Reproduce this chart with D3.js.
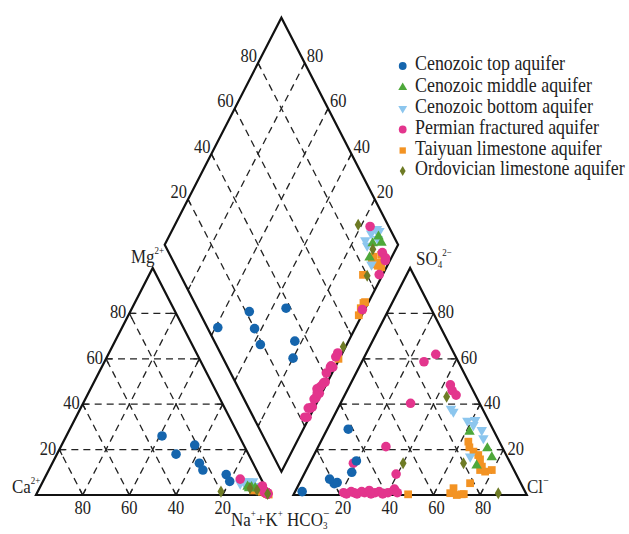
<!DOCTYPE html>
<html><head><meta charset="utf-8">
<script src="https://cdn.jsdelivr.net/npm/d3@7/dist/d3.min.js"></script>
<style>body{margin:0;background:#fff}</style>
</head><body>
<svg id="c" width="629" height="534"></svg>
<script>
// ---------- data ----------
const tickValues = [20, 40, 60, 80];
const seriesNames = ["Cenozoic top aquifer","Cenozoic middle aquifer","Cenozoic bottom aquifer",
  "Permian fractured aquifer","Taiyuan limestone aquifer","Ordovician limestone aquifer"];
// each sample: [Na+K %, Mg %, Cl %, SO4 %]  (Ca = 100-Na-Mg, HCO3 = 100-Cl-SO4)
const cenozoicTop = [[41,26,3,1.5],[51,18,16,5.5],[57,22,15,5],[63,14,12,7],[66,11,9,29],[77,9,19.5,15],[80,6,20,10]];
const cenozoicMiddle = [[88.8,3.7,61.5,27.9],[89.8,3,72.8,20.6],[92.4,3,76.7,16.6],[90.6,3.5,72,13]];
const cenozoicBottom = [[85,5,50.2,36.7],[87,5,48.5,38],[86,6,58.2,32.7],[87.5,5.5,61.4,33],[90,6,61.7,30.8],
  [89,5,66.4,28.6],[88,6,68.9,25],[93,4,67.3,16.9]];
const permian = [[84,7,30,62],[95,4,43,48.5],[98.5,1,26.6,58.7],[99,0.5,30,40.4],[98,1,29,21.3],[98,1,45,46],
  [97.5,1,47.7,44],[98,1,18.7,14],[98,1,39.4,9.2],[98,1,42,2.6],
  [98,1,21,1],[99,0.5,22.5,0.5],[97.5,1.5,24,1.5],[98.5,1,25.5,1],[99,0.5,27,0.5],[98,1,28.5,1.5],
  [98.5,1,30,1],[97,1.5,31.5,2],[99,0.5,33,0.5],[98,1,34.5,1],[98.5,1,36,1.5],[99,0.5,38,0.5],
  [97.5,1.5,40,1],[98,1,42,2],[99,0.5,44,1]];
const taiyuan = [[92,2,63.2,23.5],[94.6,2,64.9,21],[96,1.5,67.6,19.1],[96,2,70.4,17.6],[97.8,1,72.1,15.7],
  [95,2,74.5,12.5],[92,3,74.5,11],[96,1.5,77,10.3],[95,2.5,79.5,11],[91.6,3,73.1,5.2],[98.8,0.5,67.1,3],
  [98.7,0.5,66.8,0.8],[98,1,70,0],[98,1,72,0.3],[98.5,0.7,72.8,0.4],[99.6,0.2,49,0.3]];
const ordovician = [[78.5,1.5,44,43.3],[93.6,2.2,65.9,14],[99,0.5,40,14],[90.2,3,87.4,0.75]];

// ---------- styles ----------
const styles = [
  {data: cenozoicTop, color: "#1565ad", shape: "circle"},
  {data: cenozoicMiddle, color: "#4ea83a", shape: "tri"},
  {data: cenozoicBottom, color: "#8cc6ee", shape: "tridown"},
  {data: permian, color: "#e3358d", shape: "circle"},
  {data: taiyuan, color: "#f39323", shape: "square"},
  {data: ordovician, color: "#6e7b25", shape: "diamond"}
];
const drawOrder = [4, 2, 1, 3, 0, 5];

// ---------- geometry ----------
const x0 = 36, yb = 495, W = 233.4, H = 227, gap = 24;
const x1 = x0 + W + gap;
const sy = d3.scaleLinear().domain([0,100]).range([yb, yb - H]);
const sxC = d3.scaleLinear().domain([0,100]).range([x0, x0 + W]);
const sxA = d3.scaleLinear().domain([0,100]).range([x1, x1 + W]);
const xMid = (x0 + W + x1) / 2;
const yLR = yb - H * (x1 - x0) / W;
const sxD = d3.scaleLinear().domain([-100,100]).range([xMid - W/2, xMid + W/2]);
const syD = d3.scaleLinear().domain([-100,100]).range([yLR + H, yLR - H]);

const cat = (na, mg) => [sxC(na + mg/2), sy(mg)];
const ani = (cl, so4) => [sxA(cl + so4/2), sy(so4)];
const dia = (na, hco3) => [sxD(na - hco3), syD(100 - na - hco3)];

const svg = d3.select("#c");
const FONT = "'Liberation Serif','Times New Roman',serif";
const VS = 1.12;

function txt(x, y, parts, size, anchor) {
  const g = svg.append("g").attr("transform", `translate(${x},${y}) scale(1,${VS})`);
  const t = g.append("text").attr("font-family", FONT).attr("font-size", size)
    .attr("text-anchor", anchor || "start").attr("fill", "#222");
  parts.forEach(p => {
    if (typeof p === "string") t.append("tspan").text(p);
    else t.append("tspan").attr("font-size", p.s || size).attr("dy", p.dy || 0).attr("dx", p.dx || 0).text(p.t);
  });
  return t;
}

// ---------- grid ----------
const gridG = svg.append("g");
function gridLine(p, q) {
  gridG.append("line").attr("x1", p[0]).attr("y1", p[1]).attr("x2", q[0]).attr("y2", q[1])
    .attr("stroke", "#222").attr("stroke-width", 1.3).attr("stroke-dasharray", "7,5");
  const dx = q[0]-p[0], dy = q[1]-p[1], L = Math.hypot(dx, dy), t = 6 / L;
  [[p, 1], [q, -1]].forEach(([a, s]) => {
    gridG.append("line").attr("x1", a[0]).attr("y1", a[1])
      .attr("x2", a[0] + s*dx*t).attr("y2", a[1] + s*dy*t)
      .attr("stroke", "#222").attr("stroke-width", 1.3);
  });
}
tickValues.forEach(k => {
  gridLine(cat(0,k), cat(100-k,k));
  gridLine(cat(k,0), cat(k,100-k));
  gridLine(cat(100-k,0), cat(0,100-k));
  gridLine(ani(0,k), ani(100-k,k));
  gridLine(ani(k,0), ani(k,100-k));
  gridLine(ani(100-k,0), ani(0,100-k));
  gridLine(dia(0,100-k), dia(100,100-k));
  gridLine(dia(100-k,0), dia(100-k,100));
});

// ---------- outlines ----------
const line = d3.line();
const outl = pts => svg.append("path").attr("d", line(pts) + "Z").attr("fill", "none")
  .attr("stroke", "#111").attr("stroke-width", 2.2).attr("stroke-linejoin", "miter");
outl([cat(0,0), cat(100,0), cat(0,100)]);
outl([ani(0,0), ani(100,0), ani(0,100)]);
outl([dia(100,100), dia(100,0), dia(0,0), dia(0,100)]);

// ---------- tick labels ----------
const TS = 16.5;
tickValues.forEach(k => {
  let p = cat(0,k); txt(p[0]-3, p[1]+5, [String(k)], TS, "end");
  p = cat(100-k,0); txt(p[0], yb+19, [String(k)], TS, "middle");
  p = ani(100-k,k); txt(p[0]+4, p[1]+5, [String(k)], TS, "start");
  p = ani(k,0); txt(p[0]+3, yb+19, [String(k)], TS, "middle");
  p = dia(0,100-k); txt(p[0]-1, p[1]-1, [String(k)], TS, "end");
  p = dia(100-k,0); txt(p[0]+2, p[1]-1, [String(k)], TS, "start");
});

// ---------- axis names ----------
txt(12, 493, ["Ca", {t:"2+", dy:-8, s:9}], 17);
txt(527, 493, ["Cl", {t:"\u2212", dy:-8, s:10}], 17);
txt(131, 263, ["Mg", {t:"2+", dy:-8, s:9}], 17);
txt(416, 265, ["SO", {t:"4", dy:3, s:9}, {t:"2\u2212", dy:-11, s:9}], 17);
txt(231, 526, ["Na", {t:"+", dy:-8, s:9}, {t:"+K", dy:8}, {t:"+", dy:-8, s:9}, {t:" HCO", dy:8}, {t:"3", dy:3, s:9}, {t:"\u2212", dy:-10, dx:-4, s:11}], 17);

// ---------- markers ----------
function sym(shape, size) {
  const map = {circle: d3.symbolCircle, tri: d3.symbolTriangle, tridown: d3.symbolTriangle,
               square: d3.symbolSquare, diamond: d3.symbolDiamond};
  return d3.symbol().type(map[shape]).size(size)();
}
const sizes = {circle: 72, tri: 48, tridown: 48, square: 60, diamond: 42};
const markG = svg.append("g");
drawOrder.forEach(i => {
  const st = styles[i];
  const pts = [];
  st.data.forEach(([na, mg, cl, so4]) => {
    pts.push(cat(na, mg), ani(cl, so4), dia(na, 100 - cl - so4));
  });
  markG.selectAll(null).data(pts).enter().append("path")
    .attr("d", sym(st.shape, sizes[st.shape]))
    .attr("transform", d => `translate(${d[0]},${d[1]})` + (st.shape === "tridown" ? " rotate(180)" : ""))
    .attr("fill", st.color);
});

// ---------- legend ----------
const legY = [64, 85.5, 106.5, 127.5, 148.5, 169];
const legSizes = {circle: 48, tri: 34, tridown: 34, square: 40, diamond: 30};
styles.forEach((st, i) => {
  svg.append("path").attr("d", sym(st.shape, legSizes[st.shape]))
    .attr("transform", `translate(402.7,${legY[i] + 2})` + (st.shape === "tridown" ? " rotate(180)" : ""))
    .attr("fill", st.color);
  txt(415, legY[i] + 6, [seriesNames[i]], 17.9, "start");
});
</script>
</body></html>
